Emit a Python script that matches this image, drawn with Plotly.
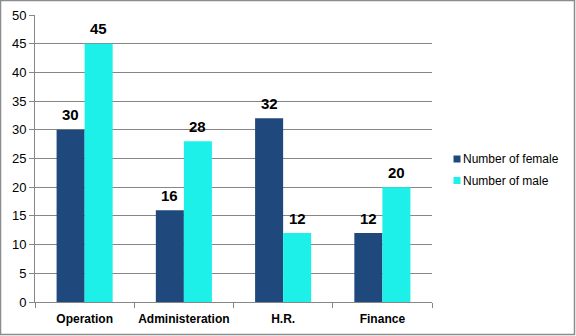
import plotly.graph_objects as go

departments = ["Operation", "Administeration", "H.R.", "Finance"]
female = [30, 16, 32, 12]
male = [45, 28, 12, 20]
y_ticks = [0, 5, 10, 15, 20, 25, 30, 35, 40, 45, 50]

W, H = 576, 336
ML, MR, MT, MB = 35, 144, 15, 34
PW, PH = W - ML - MR, H - MT - MB
BAR_GAP = 0.435
BAR_PX = PW / len(departments) * (1 - BAR_GAP) / 2

series = [
    ("Number of female", female, "#1F497D"),
    ("Number of male", male, "#1CF0E8"),
]

fig = go.Figure()
for name, vals, color in series:
    fig.add_trace(go.Bar(
        x=departments, y=vals, name=name,
        marker=dict(color=color, line=dict(width=0)),
        showlegend=False,
    ))


def px_x(p):
    return (p - ML) / PW


def px_y(p):
    return (H - MB - p) / PH


# value labels above each bar
label_font = dict(family="Liberation Sans", size=15, color="black", weight="bold")
for (name, vals, color), shift in zip(series, (-BAR_PX / 2, BAR_PX / 2)):
    for dep, val in zip(departments, vals):
        fig.add_annotation(x=dep, y=val, text=str(val), showarrow=False,
                           xshift=shift, yshift=15, font=label_font)

# legend on the right: small square swatch + series name
for i, (name, vals, color) in enumerate(series):
    cy = 159 + i * 21.5
    fig.add_shape(type="rect", xref="paper", yref="paper",
                  x0=px_x(453.5), x1=px_x(460.5), y0=px_y(cy + 3.5), y1=px_y(cy - 3.5),
                  fillcolor=color, line=dict(width=0))
    fig.add_annotation(xref="paper", yref="paper", x=px_x(461), y=px_y(cy),
                       xanchor="left", yanchor="middle", showarrow=False, text=name,
                       font=dict(family="Liberation Sans", size=12, color="black"))

# outer chart border
fig.add_shape(type="rect", xref="paper", yref="paper",
              x0=px_x(0.5), x1=px_x(W - 1.5), y0=px_y(H - 1.5), y1=px_y(0.5),
              line=dict(color="#8C8C8C", width=1.5), layer="below")

fig.update_layout(
    width=W, height=H,
    margin=dict(l=ML, r=MR, t=MT, b=MB, autoexpand=False),
    paper_bgcolor="white", plot_bgcolor="white",
    barmode="group", bargap=BAR_GAP, bargroupgap=0,
    font=dict(family="Liberation Sans", size=12, color="black"),
    xaxis=dict(showline=True, linecolor="#868686", linewidth=1,
               ticks="outside", tickson="boundaries", ticklen=5, tickcolor="#868686",
               ticklabelstandoff=6, tickangle=0,
               tickfont=dict(family="Liberation Sans", size=12, color="black", weight="bold"),
               showgrid=False),
    yaxis=dict(range=[0, 50], tickvals=y_ticks, showline=True, linecolor="#868686",
               linewidth=1, ticks="outside", ticklen=5, tickcolor="#868686",
               showgrid=True, gridcolor="#868686", gridwidth=1,
               tickfont=dict(family="Liberation Sans", size=13, color="black"),
               zeroline=False),
)

fig.write_html("out.html")
